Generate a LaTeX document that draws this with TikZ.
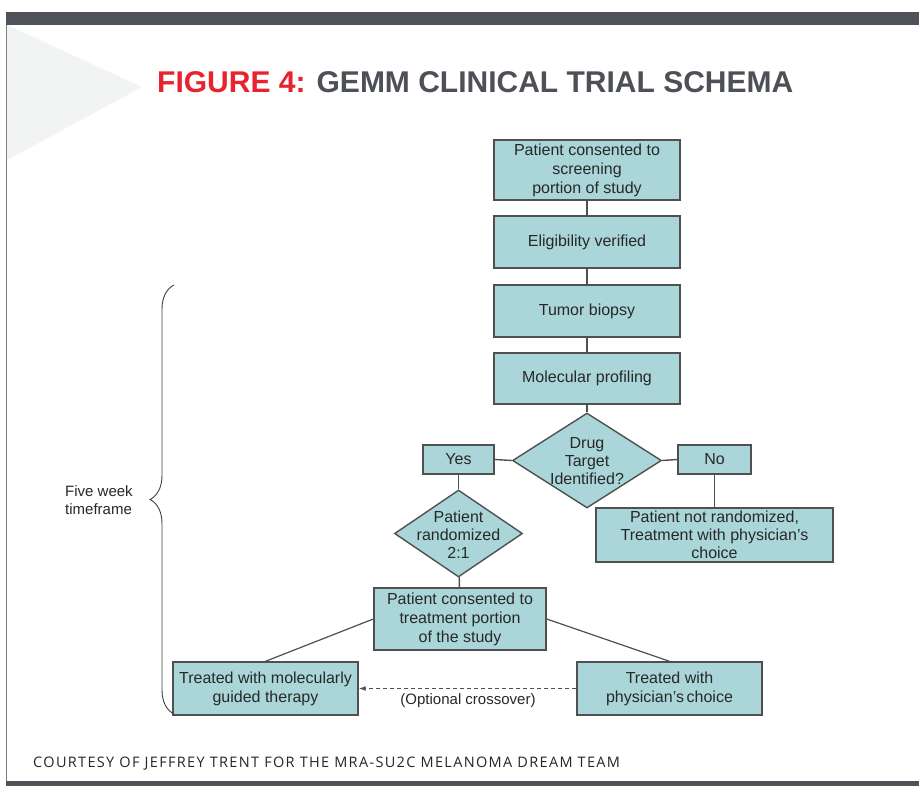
\documentclass[tikz,border=0pt]{standalone}
\usepackage{fontspec}
\setmainfont{Liberation Sans}
\newfontfamily\footfont[LetterSpace=9.2]{Open Sans}
\usetikzlibrary{shapes.geometric,arrows.meta,decorations.pathreplacing}
\definecolor{barcol}{RGB}{79,82,89}
\definecolor{figred}{RGB}{232,35,47}
\definecolor{titlegray}{RGB}{77,80,86}
\definecolor{trigray}{RGB}{242,243,243}
\definecolor{boxfill}{RGB}{170,214,217}
\definecolor{boxline}{RGB}{80,80,80}
\definecolor{txtcol}{RGB}{40,40,40}
\begin{document}
\begin{tikzpicture}[x=1pt,y=-1pt,
  box/.style={draw=boxline, fill=boxfill, line width=1.4pt, rectangle, inner sep=0pt,
    align=center, text=txtcol, font=\fontsize{16}{19}\selectfont},
  dia/.style={draw=boxline, fill=boxfill, line width=1.4pt, diamond, inner sep=0pt},
  diatxt/.style={align=center, text=txtcol, font=\fontsize{16}{18}\selectfont, inner sep=0pt},
  conn/.style={draw=boxline, line width=1.4pt},
  diag/.style={draw=boxline, line width=1.2pt}]
\useasboundingbox (0,0) rectangle (919,786);
\fill[white] (0,0) rectangle (919,786);
% frame
\fill[trigray] (7,25) -- (142,87) -- (7,160) -- cycle;
\fill[barcol] (6,12) rectangle (919,25);
\fill[barcol] (6,781) rectangle (919,786);
\draw[gray, line width=1pt] (6,25) -- (6,781);
% title
\node[anchor=base west, inner sep=0pt, font=\fontsize{30}{32}\selectfont\bfseries, text=titlegray]
  (title) at (157,93) {\textcolor{figred}{FIGURE 4:} GEMM CLINICAL TRIAL SCHEMA};
% boxes
\node[box, minimum width=186pt, minimum height=60pt] (b1) at (587,170)
  {Patient consented to\\screening\\portion of study};
\node[box, minimum width=186pt, minimum height=52pt] (b2) at (587,242) {Eligibility verified};
\node[box, minimum width=186pt, minimum height=52pt] (b3) at (587,311) {Tumor biopsy};
\node[box, minimum width=186pt, minimum height=51pt] (b4) at (587,378.5) {Molecular profiling};
\node[dia, minimum width=149pt, minimum height=95pt] (d1) at (587,460.5) {};
\node[diatxt] (d1t) at (587,461) {Drug\\Target\\Identified?};
\node[box, minimum width=71pt, minimum height=29pt] (yes) at (458.5,459.5) {Yes};
\node[box, minimum width=73pt, minimum height=29pt] (no) at (714.5,459.5) {No};
\node[dia, minimum width=128pt, minimum height=87pt] (d2) at (458.5,533.5) {};
\node[diatxt] (d2t) at (458.5,535) {Patient\\randomized\\2:1};
\node[box, minimum width=237pt, minimum height=54pt, font=\fontsize{16}{18}\selectfont] (nr) at (714.5,535)
  {Patient not randomized,\\Treatment with physician's\\choice};
\node[box, minimum width=172pt, minimum height=62pt] (b5) at (460,619)
  {Patient consented to\\treatment portion\\of the study};
\node[box, minimum width=185pt, minimum height=53pt] (lb) at (265.5,688.5)
  {Treated with molecularly\\guided therapy};
\node[box, minimum width=185pt, minimum height=53pt] (rb) at (669.5,688.5)
  {Treated with\\physician's\,choice};
% connectors
\draw[conn] (b1) -- (b2);
\draw[conn] (b2) -- (b3);
\draw[conn] (b3) -- (b4);
\draw[conn] (b4) -- (d1);
\draw[conn] (d1.west) -- (yes.east);
\draw[conn] (d1.east) -- (no.west);
\draw[conn] (yes) -- (d2);
\draw[conn] (no) -- (nr);
\draw[conn] (d2) -- (b5);
\draw[diag] (b5.west) -- (lb.north);
\draw[diag] (b5.east) -- (rb.north);
\draw[draw=boxline, line width=1.1pt, dash pattern=on 4pt off 3pt, -{Latex[length=7pt,width=5pt]}]
  (rb.west) -- (lb.east);
\node[text=txtcol, font=\fontsize{15}{18}\selectfont, inner sep=0pt] (opt) at (468,701) {(Optional crossover)};
% brace
\coordinate (bbot) at (174,714);
\coordinate (btop) at (174,285);
\draw[black!75, line width=0.9pt, decorate, decoration={brace, amplitude=24pt, aspect=0.5}]
  (bbot) -- (btop);
\node[align=left, text=txtcol, font=\fontsize{15}{18}\selectfont, inner sep=0pt, anchor=west]
  (five) at (65,500) {Five week\\timeframe};
% footer
\node[anchor=base west, inner sep=0pt, font=\footfont\fontsize{14.5}{16}\selectfont, text=black!85]
  (foot) at (33,767) {COURTESY OF JEFFREY TRENT FOR THE MRA-SU2C MELANOMA DREAM TEAM};
\end{tikzpicture}
\end{document}
